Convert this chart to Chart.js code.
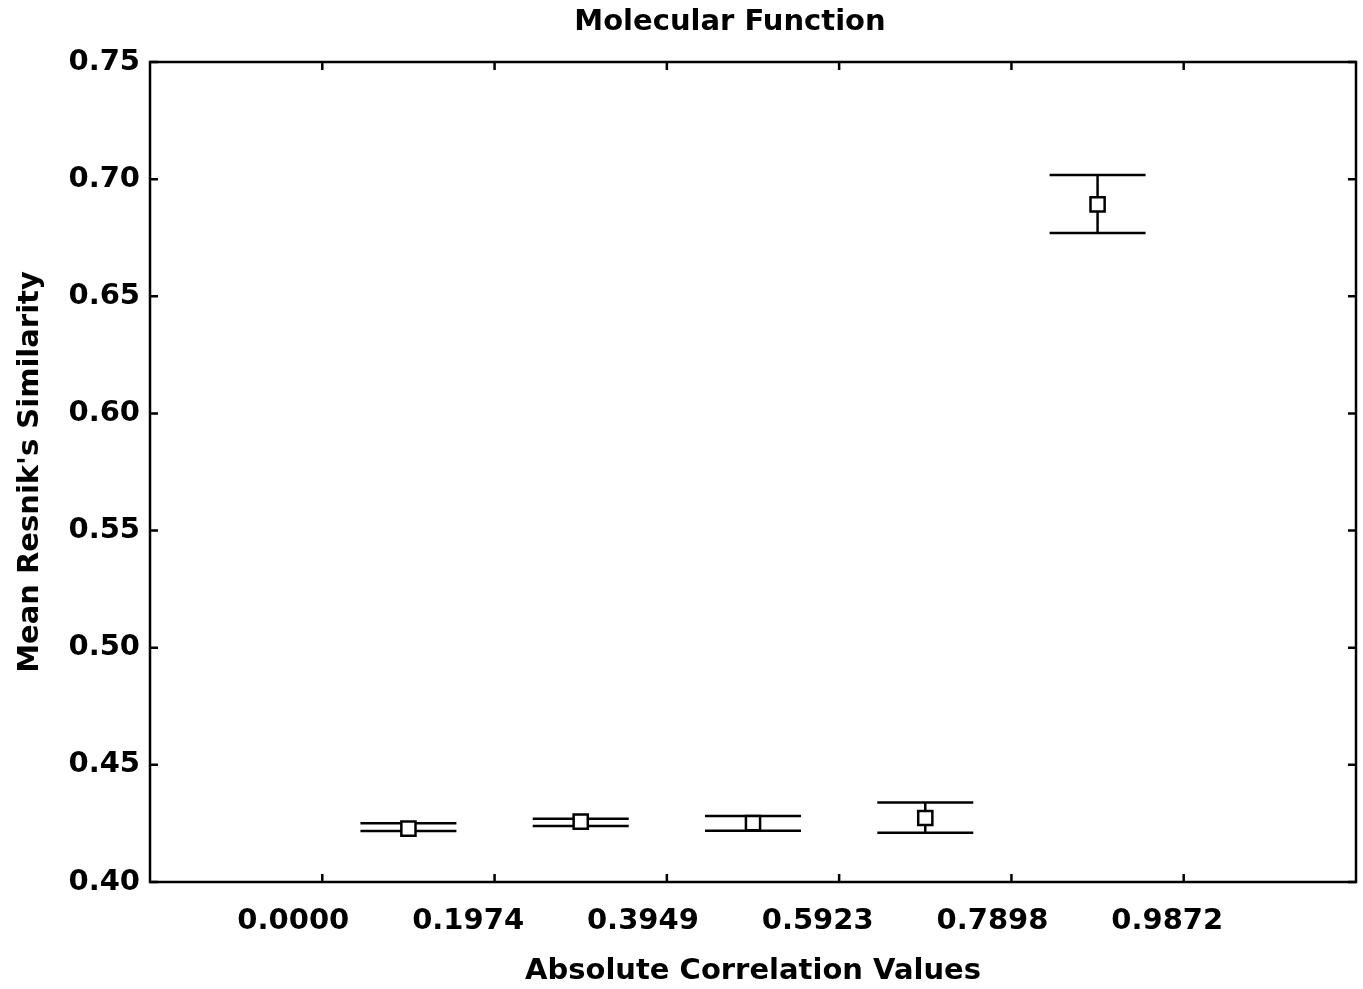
<!DOCTYPE html>
<html lang="en">
<head>
  <meta charset="UTF-8" />
  <title>Molecular Function</title>
  <script src="https://cdn.jsdelivr.net/npm/chart.js"></script>
  <style>
    html, body { margin: 0; padding: 0; background: #fff; }
    #wrap { width: 1363px; height: 989px; }
  </style>
</head>
<body>
<div id="wrap"><canvas id="chartCanvas"></canvas></div>

<script>
  // bin tick positions / labels on the x axis
  const tickValues = [0.0000, 0.19744, 0.39488, 0.59232, 0.78976, 0.98720];
  const tickLabels = ['0.0000', '0.1974', '0.3949', '0.5923', '0.7898', '0.9872'];

  // bin midpoints and the measured means with their error limits
  const binCenters = [0.09872, 0.29616, 0.49360, 0.69104, 0.88848];
  const meanValues = [0.4228, 0.4258, 0.4251, 0.4273, 0.6892];
  const upperValues = [0.4251, 0.4270, 0.4282, 0.4339, 0.7018];
  const lowerValues = [0.4218, 0.4239, 0.4219, 0.4210, 0.6770];

  const yTicks = [0.40, 0.45, 0.50, 0.55, 0.60, 0.65, 0.70, 0.75];

  const FONT = { family: '"DejaVu Sans", Verdana, sans-serif', size: 29, weight: 'bold' };
  const capHalf = 0.055; // half-width of error caps in x units
  const LW = 2.5;

  // title, error bars, frame and inward ticks on all four sides
  const errorBars = {
    id: 'errorBars',
    beforeDatasetsDraw(chart) {
      const { ctx, scales: { x, y } } = chart;
      ctx.save();
      ctx.strokeStyle = '#000';
      ctx.lineWidth = LW;
      binCenters.forEach((c, i) => {
        const px = x.getPixelForValue(c);
        const x0 = x.getPixelForValue(c - capHalf);
        const x1 = x.getPixelForValue(c + capHalf);
        const yt = y.getPixelForValue(upperValues[i]);
        const yb = y.getPixelForValue(lowerValues[i]);
        ctx.beginPath();
        ctx.moveTo(px, yt); ctx.lineTo(px, yb);
        ctx.moveTo(x0, yt); ctx.lineTo(x1, yt);
        ctx.moveTo(x0, yb); ctx.lineTo(x1, yb);
        ctx.stroke();
      });
      ctx.restore();
    },
    afterDraw(chart) {
      const { ctx, chartArea: a, scales: { x, y } } = chart;
      ctx.save();
      ctx.strokeStyle = '#000';
      ctx.lineWidth = LW;
      ctx.strokeRect(a.left, a.top, a.right - a.left, a.bottom - a.top);
      ctx.beginPath();
      tickValues.forEach(v => {
        const px = x.getPixelForValue(v);
        ctx.moveTo(px, a.bottom); ctx.lineTo(px, a.bottom - 8);
        ctx.moveTo(px, a.top); ctx.lineTo(px, a.top + 8);
      });
      yTicks.forEach(v => {
        const py = y.getPixelForValue(v);
        ctx.moveTo(a.left, py); ctx.lineTo(a.left + 8, py);
        ctx.moveTo(a.right, py); ctx.lineTo(a.right - 8, py);
      });
      ctx.stroke();

      ctx.fillStyle = '#000';
      ctx.font = `${FONT.weight} ${FONT.size}px ${FONT.family}`;
      ctx.textAlign = 'center';
      ctx.textBaseline = 'middle';
      ctx.fillText('Molecular Function', 730, 22);
      ctx.restore();
    }
  };

  const ctx = document.getElementById('chartCanvas').getContext('2d');
  new Chart(ctx, {
    type: 'scatter',
    data: {
      datasets: [{
        data: binCenters.map((c, i) => ({ x: c, y: meanValues[i] })),
        pointStyle: 'rect',
        pointRadius: 10,
        pointBackgroundColor: '#fff',
        pointBorderColor: '#000',
        pointBorderWidth: LW
      }]
    },
    options: {
      responsive: true,
      maintainAspectRatio: false,
      animation: false,
      layout: { autoPadding: false, padding: { top: 62, right: 7, left: 0, bottom: 0 } },
      plugins: {
        legend: { display: false },
        tooltip: { enabled: false },
        title: { display: false }
      },
      scales: {
        // data axis (hidden, drawn by plugin)
        x: {
          type: 'linear',
          display: false,
          min: -0.19744,
          max: 1.18464
        },
        // label axis: the original labels sit on a slightly wider spacing than the ticks
        xLabels: {
          type: 'linear',
          position: 'bottom',
          min: -0.1619,
          max: 1.2004,
          afterBuildTicks(s) { s.ticks = tickValues.map(v => ({ value: v })); },
          afterFit(s) { s.height = 107; },
          grid: { display: false, drawTicks: false },
          border: { display: false },
          ticks: {
            color: '#000',
            font: FONT,
            padding: 22,
            maxRotation: 0,
            callback: (v, i) => tickLabels[i]
          },
          title: {
            display: true,
            text: 'Absolute Correlation Values',
            color: '#000',
            font: FONT,
            padding: { top: 0, bottom: 0 }
          }
        },
        y: {
          min: 0.40,
          max: 0.75,
          afterBuildTicks(s) { s.ticks = yTicks.map(v => ({ value: v })); },
          afterFit(s) { s.width = 150; },
          grid: { display: false, drawTicks: false },
          border: { display: false },
          ticks: {
            color: '#000',
            font: FONT,
            padding: 10,
            callback: v => v.toFixed(2)
          },
          title: {
            display: true,
            text: "Mean Resnik's Similarity",
            color: '#000',
            font: FONT,
            padding: { top: 13, bottom: 0 }
          }
        }
      }
    },
    plugins: [errorBars]
  });
</script>
</body>
</html>
